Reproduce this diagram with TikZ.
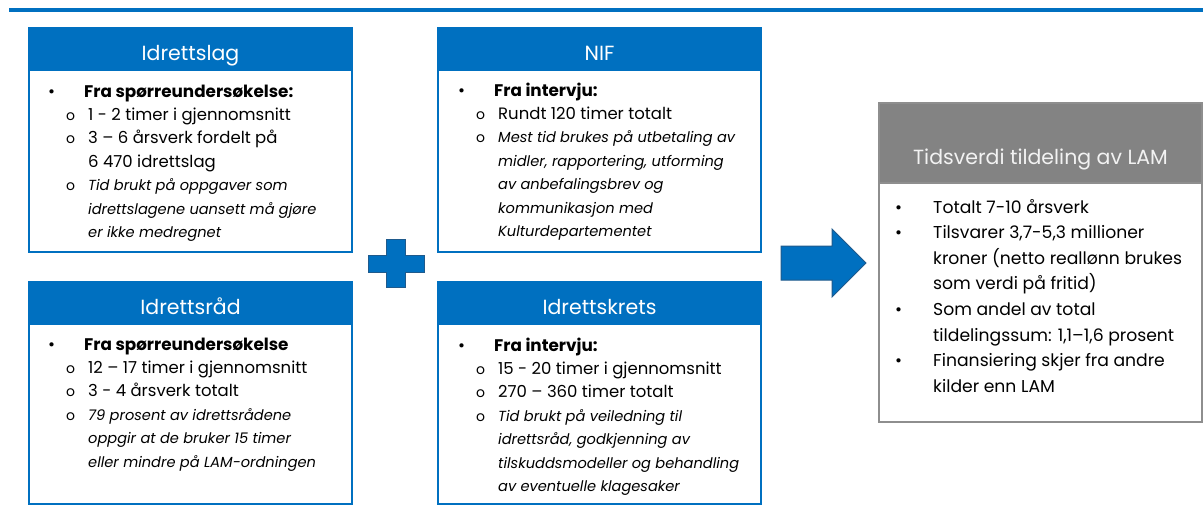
\documentclass[tikz,border=0pt]{standalone}
\usepackage{fontspec}
\setmainfont{Poppins}
\usetikzlibrary{positioning}

\definecolor{nblue}{HTML}{0070C0}
\definecolor{nedge}{HTML}{1F5A8C}
\definecolor{ngrey}{HTML}{838383}
\definecolor{nline}{HTML}{8E8E8E}

\newcommand{\prikk}{{\fontsize{17}{17}\selectfont •}}
\newcommand{\ring}{{\fontsize{14}{14}\selectfont o}}
\newcommand{\hov}[1]{\makebox[36pt][l]{\prikk}{\fontsize{16.8}{23.4}\selectfont\bfseries #1}}
\newcommand{\und}[1]{\hspace*{18pt}\makebox[22pt][l]{\ring}#1}
\newcommand{\fort}[1]{\hspace*{40pt}#1}
\newcommand{\kurs}[1]{{\fontsize{14.6}{23.4}\selectfont\itshape #1}}
\newcommand{\punkt}[1]{\makebox[38pt][l]{\prikk}#1}
\newcommand{\vidre}[1]{\hspace*{38pt}#1}

\begin{document}
\begin{tikzpicture}[x = 1pt, y = -1pt,
  boks/.style = {draw = nblue, line width = 2.7pt, minimum width = 323, inner sep = 0, outer sep = 0, anchor = north west},
  kopf/.style = {boks, fill = nblue, minimum height = 42, text = white, text height = 22, text depth = 0, font = \fontsize{20.5}{24}\selectfont},
  gboks/.style = {boks, draw = nline},
  gkopf/.style = {gboks, fill = ngrey, minimum height = 80, text = white!95!black, text height = 42, text depth = 0, font = \fontsize{20.5}{24}\selectfont},
  tekst/.style = {anchor = base west, align = left, inner sep = 0, font = \fontsize{16.5}{23.4}\selectfont},
  gtekst/.style = {tekst, font = \fontsize{17.2}{25.6}\selectfont}]
\useasboundingbox (0,0) rectangle (1203,506);
\draw[nblue, line width = 4] (9,10) -- (1203,10);

\node[boks, minimum height = 224] (lag) at (29,28) {};
\node[boks, minimum height = 224, right = 86pt of lag] (nif) {};
\node[boks, minimum height = 222, below = 30pt of lag] (raad) {};
\node[boks, minimum height = 222, right = 86pt of raad] (krets) {};
\node[gboks, minimum height = 319] (tid) at (879,103) {};

\node[kopf] (lagkopf) at (lag.north west) {Idrettslag};
\node[kopf] (nifkopf) at (nif.north west) {NIF};
\node[kopf] (raadkopf) at (raad.north west) {Idrettsråd};
\node[kopf] (kretskopf) at (krets.north west) {Idrettskrets};
\node[gkopf] (tidkopf) at (tid.north west) {Tidsverdi tildeling av LAM};

\node[tekst] (lagtekst) at ([xshift = 19, yshift = -167.4] lagkopf.south west) {%
\hov{Fra spørreundersøkelse:}\\
\und{1 - 2 timer i gjennomsnitt}\\
\und{3 – 6 årsverk fordelt på}\\
\fort{6 470 idrettslag}\\
\und{\kurs{Tid brukt på oppgaver som}}\\
\fort{\kurs{idrettslagene uansett må gjøre}}\\
\fort{\kurs{er ikke medregnet}}};

\node[tekst] (niftekst) at ([xshift = 20, yshift = -166.4] nifkopf.south west) {%
\hov{Fra intervju:}\\
\und{Rundt 120 timer totalt}\\
\und{\kurs{Mest tid brukes på utbetaling av}}\\
\fort{\kurs{midler, rapportering, utforming}}\\
\fort{\kurs{av anbefalingsbrev og}}\\
\fort{\kurs{kommunikasjon med}}\\
\fort{\kurs{Kulturdepartementet}}};

\node[tekst] (raadtekst) at ([xshift = 19, yshift = -143] raadkopf.south west) {%
\hov{Fra spørreundersøkelse}\\
\und{12 – 17 timer i gjennomsnitt}\\
\und{3 - 4 årsverk totalt}\\
\und{\kurs{79 prosent av idrettsrådene}}\\
\fort{\kurs{oppgir at de bruker 15 timer}}\\
\fort{\kurs{eller mindre på LAM-ordningen}}};

\node[tekst] (kretstekst) at ([xshift = 20, yshift = -167.4] kretskopf.south west) {%
\hov{Fra intervju:}\\
\und{15 - 20 timer i gjennomsnitt}\\
\und{270 – 360 timer totalt}\\
\und{\kurs{Tid brukt på veiledning til}}\\
\fort{\kurs{idrettsråd, godkjenning av}}\\
\fort{\kurs{tilskuddsmodeller og behandling}}\\
\fort{\kurs{av eventuelle klagesaker}}};

\node[gtekst] (tidtekst) at ([xshift = 16, yshift = -209.2] tidkopf.south west) {%
\punkt{Totalt 7-10 årsverk}\\
\punkt{Tilsvarer 3,7-5,3 millioner}\\
\vidre{kroner (netto reallønn brukes}\\
\vidre{som verdi på fritid)}\\
\punkt{Som andel av total}\\
\vidre{tildelingssum: 1,1–1,6 prosent}\\
\punkt{Finansiering skjer fra andre}\\
\vidre{kilder enn LAM}};

\filldraw[fill = nblue, draw = nedge, line width = 1] (386,239) -- (405,239) -- (405,255) -- (424,255) -- (424,272) -- (405,272) -- (405,287) -- (386,287) -- (386,272) -- (368,272) -- (368,255) -- (386,255) -- cycle;
\filldraw[fill = nblue, draw = nedge, line width = 1] (781,246) -- (832,246) -- (832,229) -- (866,263) -- (832,297) -- (832,280) -- (781,280) -- cycle;
\end{tikzpicture}
\end{document}
